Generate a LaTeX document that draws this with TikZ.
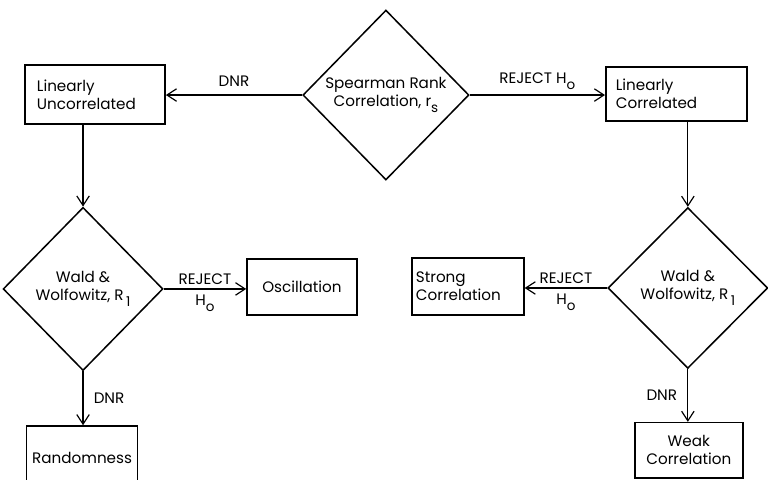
\documentclass[tikz,border=0pt]{standalone}
\usepackage{fontspec}
\setmainfont{Poppins}
\usetikzlibrary{positioning, shapes.geometric, arrows.meta}
\newcommand{\lowsub}[1]{\raisebox{-0.75ex}{\fontsize{8}{8}\selectfont#1}}

\begin{document}
\begin{tikzpicture}[
    font=\fontsize{9}{10.5}\selectfont,
    box/.style={rectangle, draw, line width=0.9pt, inner ysep=2pt},
    leftbox/.style={box, align=left},
    test/.style={diamond, draw, line width=0.9pt, align=center, inner sep=0pt},
    arr/.style={line width=0.7pt, -{Straight Barb[length=2mm, width=2.6mm]}},
    lbl/.style={inner sep=2pt}
]
\useasboundingbox (0,0) rectangle (16,10);

% Spearman test and its two outcomes
\node[test, minimum width=3.46cm, minimum height=3.54cm] (spear) at (8.04,8.02) {Spearman Rank\\Correlation, r\lowsub{s}};
\node[leftbox, text width=2.42cm, inner xsep=0.25cm, minimum height=1.23cm] (uncor) at (1.98,8.03) {Linearly\\Uncorrelated};
\node[leftbox, text width=2.52cm, inner xsep=0.21cm, minimum height=1.13cm] (cor) at (14.09,8.04) {Linearly\\Correlated};

% Wald & Wolfowitz tests
\node[test, minimum width=3.33cm, minimum height=3.40cm] (lwald) at (1.73,3.98) {Wald \&\\Wolfowitz, R\,\lowsub{1}};
\node[test, minimum width=3.33cm, minimum height=3.35cm] (rwald) at (14.33,4.00) {Wald \&\\Wolfowitz, R\,\lowsub{1}};

% Results
\node[box, minimum width=2.29cm, minimum height=1.17cm] (osc) at (6.29,4.02) {Oscillation};
\node[box, minimum width=2.29cm, minimum height=1.33cm] (rand) at (1.71,0.46) {Randomness};
\node[leftbox, text width=2.17cm, inner xsep=0.08cm, minimum height=1.19cm] (strong) at (9.75,4.03) {Strong\\Correlation};
\node[box, align=center, minimum width=2.25cm, minimum height=1.15cm] (weak) at (14.35,0.62) {Weak\\Correlation};

% Edges
\draw[arr] (spear.west) -- node[lbl, above=3pt] {DNR} (spear.west -| uncor.east);
\draw[arr] (spear.east) -- node[lbl, above=1pt] {REJECT H\lowsub{o}} (spear.east -| cor.west);
\draw[arr] (uncor.south -| lwald.north) -- (lwald.north);
\draw[arr] (cor.south -| rwald.north) -- (rwald.north);
\draw[arr] (lwald.east) -- node[lbl, above] {REJECT} node[lbl, below=1pt] {H\lowsub{o}} (lwald.east -| osc.west);
\draw[arr] (lwald.south) -- node[lbl, right=4pt] {DNR} (lwald.south |- rand.north);
\draw[arr] (rwald.west) -- node[lbl, above] {REJECT} node[lbl, below=1pt] {H\lowsub{o}} (rwald.west -| strong.east);
\draw[arr] (rwald.south) -- node[lbl, left=4pt] {DNR} (rwald.south |- weak.north);

\end{tikzpicture}
\end{document}
